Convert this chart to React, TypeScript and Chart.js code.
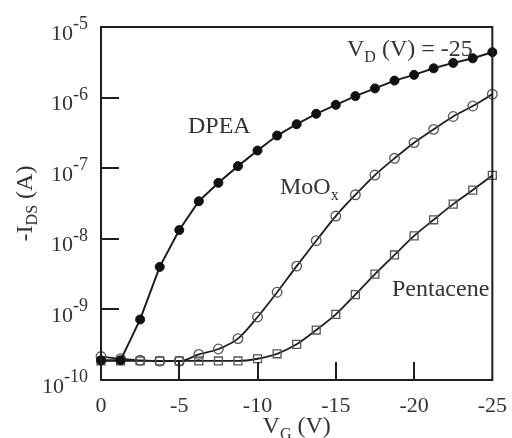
import React, { useEffect, useRef } from "react";
import { Chart, registerables } from "chart.js";

Chart.register(...registerables);

// Gate voltage V_G (V)
const gateVoltages = [0, -1.25, -2.5, -3.75, -5, -6.25, -7.5, -8.75, -10, -11.25, -12.5, -13.75, -15, -16.25, -17.5, -18.75, -20, -21.25, -22.5, -23.75, -25];
// -I_DS (A)
const dpeaCurrent = [1.9e-10, 1.9e-10, 7.2e-10, 4.0e-9, 1.33e-8, 3.4e-8, 6.2e-8, 1.07e-7, 1.78e-7, 2.9e-7, 4.2e-7, 5.9e-7, 7.9e-7, 1.05e-6, 1.35e-6, 1.74e-6, 2.1e-6, 2.6e-6, 3.1e-6, 3.6e-6, 4.4e-6];
const mooxCurrent = [2.15e-10, 2.0e-10, 1.9e-10, 1.85e-10, 1.85e-10, 2.3e-10, 2.75e-10, 3.85e-10, 7.8e-10, 1.75e-9, 4.1e-9, 9.4e-9, 2.1e-8, 4.2e-8, 8.0e-8, 1.38e-7, 2.3e-7, 3.55e-7, 5.4e-7, 7.6e-7, 1.12e-6];
const pentaceneCurrent = [1.86e-10, 1.86e-10, 1.86e-10, 1.86e-10, 1.86e-10, 1.86e-10, 1.86e-10, 1.86e-10, 2.0e-10, 2.35e-10, 3.2e-10, 5.1e-10, 8.5e-10, 1.62e-9, 3.16e-9, 5.9e-9, 1.1e-8, 1.86e-8, 3.1e-8, 4.9e-8, 7.9e-8];

// Axis ticks
const yDecadeExponents = [-10, -9, -8, -7, -6, -5];
const yInnerTickExponents = [-9, -8, -7, -6];
const xInnerTicks = [-5, -10, -15, -20];

const FONT = '"Liberation Serif", "Times New Roman", serif';
const TEXT = "#333";
const INK = "#1e1e1e";

type Part = [string, number, number];

function drawRich(ctx: CanvasRenderingContext2D, parts: Part[], x: number, y: number, align: "left" | "center" | "right") {
  const widths = parts.map((p) => {
    ctx.font = `${p[1]}px ${FONT}`;
    return ctx.measureText(p[0]).width;
  });
  const total = widths.reduce((a, b) => a + b, 0);
  let cx = align === "center" ? x - total / 2 : align === "right" ? x - total : x;
  ctx.textAlign = "left";
  ctx.textBaseline = "alphabetic";
  parts.forEach((p, i) => {
    ctx.font = `${p[1]}px ${FONT}`;
    ctx.fillText(p[0], cx, y + p[2]);
    cx += widths[i];
  });
}

const decorPlugin = {
  id: "decor",
  afterDraw(chart: any) {
    const ctx: CanvasRenderingContext2D = chart.ctx;
    const { left, right, top, bottom } = chart.chartArea;
    const xs = chart.scales.x;
    const ys = chart.scales.y;
    ctx.save();
    // frame
    ctx.strokeStyle = INK;
    ctx.lineWidth = 2;
    ctx.strokeRect(left, top, right - left, bottom - top);
    // inner ticks
    ctx.beginPath();
    yInnerTickExponents.forEach((e) => {
      const py = Math.round(ys.getPixelForValue(Math.pow(10, e)));
      ctx.moveTo(left, py);
      ctx.lineTo(left + 18, py);
    });
    xInnerTicks.forEach((v) => {
      const px = Math.round(xs.getPixelForValue(v));
      ctx.moveTo(px, bottom);
      ctx.lineTo(px, bottom - 18);
    });
    ctx.stroke();
    // y tick labels 10^e
    ctx.fillStyle = TEXT;
    yDecadeExponents.forEach((e) => {
      const py = ys.getPixelForValue(Math.pow(10, e));
      ctx.font = `18px ${FONT}`;
      const expText = String(e);
      const ew = ctx.measureText(expText).width;
      const ex = left - 13 - ew;
      ctx.textAlign = "left";
      ctx.textBaseline = "alphabetic";
      ctx.fillText(expText, ex, py + 2);
      ctx.font = `22px ${FONT}`;
      ctx.textAlign = "right";
      ctx.fillText("10", ex, py + 12.5);
    });
    // annotations
    drawRich(ctx, [["DPEA", 24, 0]], 188, 133, "left");
    drawRich(ctx, [["MoO", 24, 0], ["x", 16, 6]], 280, 194, "left");
    drawRich(ctx, [["Pentacene", 24, 0]], 392, 296, "left");
    drawRich(ctx, [["V", 24, 0], ["D", 16, 6], [" (V) = -25", 24, 0]], 347, 56, "left");
    // axis titles
    drawRich(ctx, [["V", 24, 0], ["G", 16, 6], [" (V)", 24, 0]], (left + right) / 2, 433, "center");
    ctx.translate(32, (top + bottom) / 2);
    ctx.rotate(-Math.PI / 2);
    drawRich(ctx, [["-I", 24, 0], ["DS", 16, 5], [" (A)", 24, 0]], 0, 0, "center");
    ctx.restore();
  },
};

function toPoints(values: number[]) {
  return gateVoltages.map((x, i) => ({ x, y: values[i] }));
}

export default function App() {
  const canvasRef = useRef<HTMLCanvasElement | null>(null);

  useEffect(() => {
    document.body.style.margin = "0";
    const canvas = canvasRef.current;
    if (!canvas) return;
    const chart = new Chart(canvas, {
      type: "line",
      data: {
        datasets: [
          {
            label: "DPEA",
            data: toPoints(dpeaCurrent),
            borderColor: INK,
            borderWidth: 2,
            pointStyle: "circle",
            pointRadius: 4.5,
            pointBackgroundColor: "#111",
            pointBorderColor: "#111",
            pointBorderWidth: 1,
            tension: 0,
            clip: false,
          },
          {
            label: "Pentacene",
            data: toPoints(pentaceneCurrent),
            borderColor: INK,
            borderWidth: 1.8,
            pointStyle: "rect",
            pointRadius: 5.6,
            pointBackgroundColor: "rgba(0,0,0,0)",
            pointBorderColor: "#555",
            pointBorderWidth: 1.3,
            cubicInterpolationMode: "monotone",
            clip: false,
          },
          {
            label: "MoOx",
            data: toPoints(mooxCurrent),
            borderColor: INK,
            borderWidth: 1.8,
            pointStyle: "circle",
            pointRadius: 4.8,
            pointBackgroundColor: "rgba(0,0,0,0)",
            pointBorderColor: "#555",
            pointBorderWidth: 1.3,
            cubicInterpolationMode: "monotone",
            clip: false,
          },
        ] as any,
      },
      options: {
        animation: false,
        responsive: false,
        maintainAspectRatio: false,
        layout: { padding: { top: 27, right: 17, left: 0, bottom: 0 } },
        plugins: { legend: { display: false }, tooltip: { enabled: false } },
        scales: {
          x: {
            type: "linear",
            min: -25,
            max: 0,
            reverse: true,
            grid: { display: false },
            border: { display: false },
            ticks: {
              stepSize: 5,
              autoSkip: false,
              maxRotation: 0,
              padding: 5,
              color: TEXT,
              font: { family: FONT, size: 22 },
            },
            afterFit(scale: any) {
              scale.height = 58;
            },
          },
          y: {
            type: "logarithmic",
            min: 1e-10,
            max: 1e-5,
            grid: { display: false },
            border: { display: false },
            ticks: { display: false },
            afterFit(scale: any) {
              scale.width = 101;
            },
          },
        },
      } as any,
      plugins: [decorPlugin],
    });
    return () => chart.destroy();
  }, []);

  return (
    <div style={{ width: 512, height: 438, background: "#fff" }}>
      <canvas ref={canvasRef} width={512} height={438} style={{ display: "block" }} />
    </div>
  );
}
